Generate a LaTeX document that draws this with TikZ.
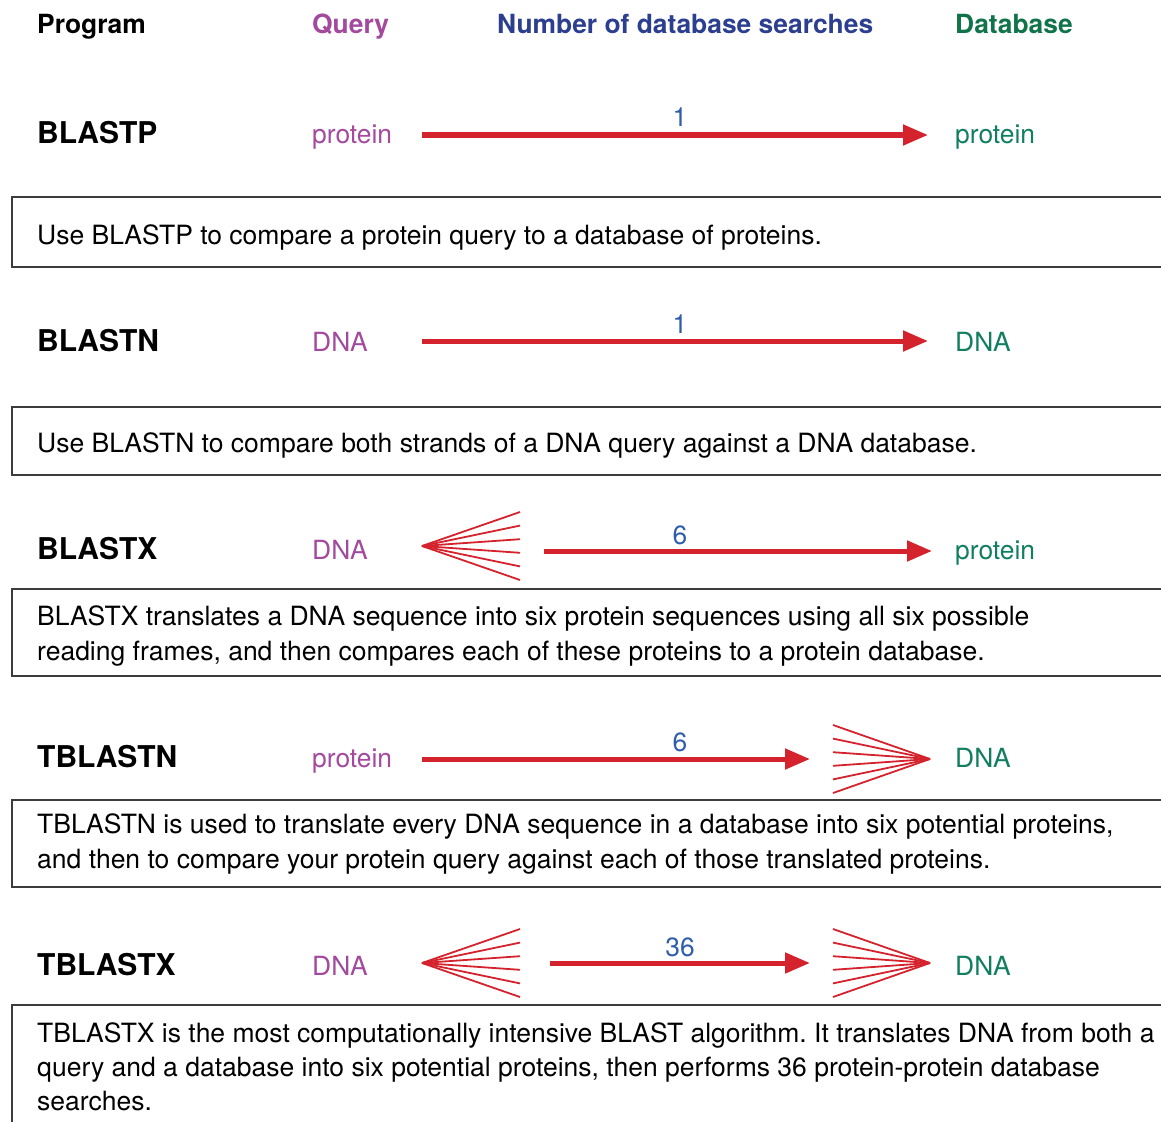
\documentclass[tikz,border=0pt]{standalone}
\usepackage{fontspec}
\setmainfont{TeX Gyre Heros}
\usetikzlibrary{arrows.meta,calc}
\frenchspacing
\definecolor{blastred}{RGB}{213,35,46}
\definecolor{qpurple}{RGB}{163,74,158}
\definecolor{nblue}{RGB}{47,93,170}
\definecolor{hblue}{RGB}{44,62,143}
\definecolor{dbgreen}{RGB}{15,127,95}
\definecolor{hgreen}{RGB}{17,115,74}
\definecolor{boxgray}{RGB}{60,60,60}
\tikzset{
  txt/.style={anchor=base west,inner sep=0pt},
  head/.style={txt,font=\fontsize{26.4}{30}\selectfont\bfseries},
  progname/.style={txt,font=\fontsize{30}{36}\selectfont\bfseries},
  qry/.style={txt,font=\fontsize{26.4}{30}\selectfont,text=qpurple},
  dbase/.style={txt,font=\fontsize{26.4}{30}\selectfont,text=dbgreen},
  num/.style={anchor=base,inner sep=0pt,font=\fontsize{26.4}{30}\selectfont,text=nblue},
  desc/.style={txt,align=left,font=\fontsize{26.5}{35}\selectfont},
  descbox/.style={draw=boxgray,line width=1.6pt},
  search/.style={draw=blastred,line width=5pt,-{Triangle[length=25pt,width=20pt]}},
  fanline/.style={draw=blastred,line width=1.8pt}
}
% six reading frames
\def\fanleft(#1){\foreach \k in {-2.5,-1.5,...,2.5} \draw[fanline] (#1) -- ++(98,\k*13.6);}
\def\fanright(#1){\foreach \k in {-2.5,-1.5,...,2.5} \draw[fanline] (#1) -- ++(-97,\k*13.6);}

\begin{document}
\begin{tikzpicture}[x=1pt,y=-1pt]
			%%%%% START %%%%%
			\useasboundingbox (0,0) rectangle (1161,1121);
			\clip (0,0) rectangle (1161,1121);
			
			\node[head] (hprog) at (37,34) {Program};
			\node[head,text=qpurple] (hqry) at (312,34) {Query};
			\node[head,text=hblue] (hnum) at (497,34) {Number of database searches};
			\node[head,text=hgreen] (hdb) at (955,34) {Database};
			
			% BLASTP
			\node[progname] (prog1) at (37,143) {BLASTP};
			\node[qry] (qry1) at (312,143) {protein};
			\node[dbase] (db1) at (955,143) {protein};
			\coordinate (s1a) at (422,135);
			\coordinate (s1b) at (928,135);
			\draw[search] (s1a) -- (s1b);
			\node[num] (num1) at (680,127) {1};
			\draw[descbox] (12,197) rectangle (1175,267);
			\node[desc] (desc1) at (37,244) {Use BLASTP to compare a protein query to a database of proteins.};
			
			% BLASTN
			\node[progname] (prog2) at (37,351) {BLASTN};
			\node[qry] (qry2) at (312,351) {DNA};
			\node[dbase] (db2) at (955,351) {DNA};
			\coordinate (s2a) at (422,341);
			\coordinate (s2b) at (928,341);
			\draw[search] (s2a) -- (s2b);
			\node[num] (num2) at (680,333) {1};
			\draw[descbox] (12,407) rectangle (1175,475);
			\node[desc] (desc2) at (37,452) {Use BLASTN to compare both strands of a DNA query against a DNA database.};
			
			% BLASTX
			\node[progname] (prog3) at (37,559) {BLASTX};
			\node[qry] (qry3) at (312,559) {DNA};
			\node[dbase] (db3) at (955,559) {protein};
			\coordinate (f3) at (422,546);
			\fanleft(f3)
			\coordinate (s3a) at (544,551);
			\coordinate (s3b) at (932,551);
			\draw[search] (s3a) -- (s3b);
			\node[num] (num3) at (680,544) {6};
			\draw[descbox] (12,589) rectangle (1175,676);
			\node[desc] (desc3) at (37,660) {BLASTX translates a DNA sequence into six protein sequences using all six possible\\reading frames, and then compares each of these proteins to a protein database.};
			
			% TBLASTN
			\node[progname] (prog4) at (37,767) {TBLASTN};
			\node[qry] (qry4) at (312,767) {protein};
			\node[dbase] (db4) at (955,767) {DNA};
			\coordinate (s4a) at (422,759);
			\coordinate (s4b) at (810,759);
			\draw[search] (s4a) -- (s4b);
			\coordinate (f4) at (930,759);
			\fanright(f4)
			\node[num] (num4) at (680,751) {6};
			\draw[descbox] (12,800) rectangle (1175,887);
			\node[desc] (desc4) at (37,868) {TBLASTN is used to translate every DNA sequence in a database into six potential proteins,\\and then to compare your protein query against each of those translated proteins.};
			
			% TBLASTX
			\node[progname] (prog5) at (37,975) {TBLASTX};
			\node[qry] (qry5) at (312,975) {DNA};
			\node[dbase] (db5) at (955,975) {DNA};
			\coordinate (f5a) at (422,963);
			\fanleft(f5a)
			\coordinate (s5a) at (550,963);
			\coordinate (s5b) at (810,963);
			\draw[search] (s5a) -- (s5b);
			\coordinate (f5b) at (930,963);
			\fanright(f5b)
			\node[num] (num5) at (680,956) {36};
			\draw[descbox] (12,1005) rectangle (1175,1140);
			\node[desc,font=\fontsize{26.5}{34}\selectfont] (desc5) at (37,1110) {TBLASTX is the most computationally intensive BLAST algorithm. It translates DNA from both a\\query and a database into six potential proteins, then performs 36 protein-protein database\\searches.};
			
			%%%%% END %%%%%
\end{tikzpicture}
\end{document}
